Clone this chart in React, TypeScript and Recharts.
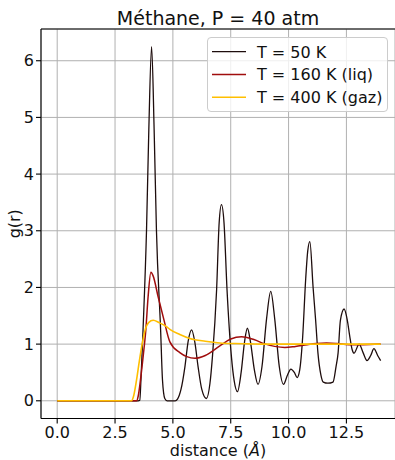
import { LineChart, Line, XAxis, YAxis, CartesianGrid, Legend, ReferenceLine } from "recharts";

const FONT = "DejaVu Sans, sans-serif";

// g(r) du méthane à 40 atm, trois températures
const R_50 = [
  0, 3.5, 3.57, 3.62, 3.71, 3.86, 3.96, 4.08, 4.19, 4.29, 4.47, 4.55, 4.65, 4.75, 5.1,
  5.2, 5.35, 5.52, 5.66, 5.81, 5.95, 6.09, 6.25, 6.45, 6.6, 6.71, 6.89, 7.0, 7.1, 7.21,
  7.34, 7.53, 7.65, 7.79, 7.95, 8.1, 8.22, 8.35, 8.52, 8.68, 8.85, 9.05, 9.23, 9.4, 9.6,
  9.78, 9.95, 10.1, 10.25, 10.37, 10.48, 10.61, 10.74, 10.83, 10.92, 11.06, 11.17, 11.27,
  11.4, 11.5, 11.7, 11.92, 12.05, 12.14, 12.24, 12.4, 12.54, 12.64, 12.75, 12.83, 13.05,
  13.22, 13.39, 13.55, 13.69, 13.85, 13.98,
];
const G_50 = [
  0, 0, 0.01, 0.37, 1.25, 3.0, 4.78, 6.25, 4.78, 3.0, 1.25, 0.37, 0.04, 0, 0,
  0.03, 0.2, 0.6, 1.05, 1.25, 1.03, 0.6, 0.2, 0.04, 0.3, 0.78, 1.96, 3.14, 3.46, 3.14,
  1.96, 0.78, 0.35, 0.16, 0.5, 1.05, 1.28, 1.05, 0.55, 0.29, 0.6, 1.45, 1.93, 1.45, 0.6,
  0.29, 0.45, 0.56, 0.5, 0.41, 0.54, 1.13, 2.15, 2.65, 2.81, 2.0, 1.42, 0.84,
  0.45, 0.33, 0.31, 0.33, 0.6, 0.84, 1.42, 1.62, 1.42, 1.15, 0.9, 0.84, 1.0,
  0.85, 0.71, 0.8, 0.92, 0.8, 0.71,
];

const R_160 = [
  0, 3.43, 3.5, 3.6, 3.72, 3.83, 3.93, 4.05, 4.15, 4.36, 4.6, 4.87, 5.3, 5.6, 5.95, 6.4,
  7.03, 7.5, 7.97, 8.5, 9.0, 9.4, 9.84, 10.3, 10.8, 11.2, 11.64, 12.1, 12.6, 13.2, 13.98,
];
const G_160 = [
  0, 0, 0.08, 0.37, 0.8, 1.25, 1.84, 2.27, 2.2, 1.84, 1.45, 1.04, 0.85, 0.78, 0.75, 0.8,
  0.97, 1.09, 1.13, 1.08, 1.0, 0.96, 0.94, 0.96, 0.99, 1.01, 1.02, 1.01, 0.99, 0.99, 1.0,
];

const R_400 = [
  0, 3.21, 3.3, 3.43, 3.55, 3.65, 3.8, 3.95, 4.15, 4.4, 4.72, 4.87, 5.3, 5.73, 6.4, 7.03,
  7.7, 8.32, 9.0, 10.0, 12.0, 13.98,
];
const G_400 = [
  0, 0, 0.08, 0.37, 0.7, 0.95, 1.25, 1.38, 1.42, 1.38, 1.31, 1.26, 1.17, 1.1, 1.05, 1.02,
  1.01, 1.005, 1.0, 1.0, 1.0, 1.0,
];

const X_TICKS = [0, 2.5, 5, 7.5, 10, 12.5];
const Y_TICKS = [0, 1, 2, 3, 4, 5, 6];
const X_DOMAIN: [number, number] = [-0.7, 14.6];
const Y_DOMAIN: [number, number] = [-0.3125, 6.56];

const toRows = (r: number[], g: number[]) => r.map((x, i) => ({ r: x, g: g[i] }));

const SERIES = [
  { name: "T = 50 K", rows: toRows(R_50, G_50), color: "#1e0d0d", width: 1.3 },
  { name: "T = 160 K (liq)", rows: toRows(R_160, G_160), color: "#a00d0d", width: 1.5 },
  { name: "T = 400 K (gaz)", rows: toRows(R_400, G_400), color: "#ffbf00", width: 1.6 },
];

function LegendBox() {
  return (
    <div
      style={{
        width: 181, height: 75, boxSizing: "border-box",
        background: "rgba(255,255,255,0.8)", border: "1px solid #cccccc", borderRadius: 4,
      }}
    >
      <svg width={179} height={73} style={{ display: "block" }}>
        {SERIES.map((s, i) => {
          const cy = 13.7 + i * 22.8;
          return (
            <g key={s.name}>
              <line x1={4} x2={38} y1={cy} y2={cy} stroke={s.color} strokeWidth={s.width} />
              <text x={49} y={cy + 5.8} fontSize={16} fontFamily={FONT} fill="#111">{s.name}</text>
            </g>
          );
        })}
      </svg>
    </div>
  );
}

const tickStyle = { fill: "#111", fontSize: 16, fontFamily: FONT };
const spine = { stroke: "#000", strokeWidth: 1.1 };

export default function App() {
  return (
    <div style={{ position: "absolute", left: 0, top: 0, background: "#fff" }}>
      <LineChart width={395} height={460} margin={{ top: 29, right: 0, bottom: 0, left: 0 }}>
        <CartesianGrid stroke="#b0b0b0" strokeWidth={1} />
        <XAxis
          dataKey="r" type="number" domain={X_DOMAIN} ticks={X_TICKS} allowDataOverflow
          height={41.5} tickSize={5} tickMargin={2.8} tick={tickStyle}
          tickFormatter={(v: number) => v.toFixed(1)}
          axisLine={spine} tickLine={spine}
          label={{
            content: (p: any) => (
              <text x={p.viewBox.x + p.viewBox.width / 2} y={456} textAnchor="middle" fontSize={16} fontFamily={FONT} fill="#111">
                distance (<tspan fontStyle="italic">Å</tspan>)
              </text>
            ),
          }}
        />
        <YAxis
          type="number" domain={Y_DOMAIN} ticks={Y_TICKS} allowDataOverflow
          width={41} tickSize={5} tickMargin={2} tick={tickStyle}
          axisLine={spine} tickLine={spine}
          label={{
            content: (p: any) => {
              const cy = p.viewBox.y + p.viewBox.height / 2;
              return (
                <text x={19.6} y={cy} textAnchor="middle" fontSize={16} fontFamily={FONT} fill="#111" transform={`rotate(-90, 19.6, ${cy})`}>
                  g(r)
                </text>
              );
            },
          }}
        />
        <ReferenceLine
          y={Y_DOMAIN[1]} {...spine}
          label={{
            content: (p: any) => (
              <text x={p.viewBox.x + p.viewBox.width / 2} y={p.viewBox.y - 4.5} textAnchor="middle" fontSize={19} fontFamily={FONT} fill="#111">
                Méthane, P = 40 atm
              </text>
            ),
          }}
        />
        {SERIES.map((s) => (
          <Line
            key={s.name} data={s.rows} dataKey="g" name={s.name} type="monotone"
            stroke={s.color} strokeWidth={s.width} dot={false} activeDot={false}
            isAnimationActive={false}
          />
        ))}
        <Legend
          layout="horizontal" verticalAlign="middle" align="center"
          wrapperStyle={{ left: 207, top: 37, width: 181, height: 75 }}
          content={() => <LegendBox />}
        />
      </LineChart>
    </div>
  );
}
